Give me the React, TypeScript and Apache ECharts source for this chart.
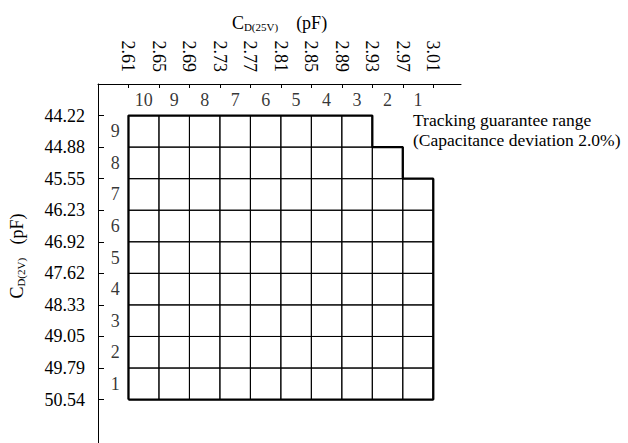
import React, { useEffect, useRef } from "react";
import * as echarts from "echarts";

// Tick labels
const xTickLabels = ["2.61", "2.65", "2.69", "2.73", "2.77", "2.81", "2.85", "2.89", "2.93", "2.97", "3.01"];
const yTickLabels = ["44.22", "44.88", "45.55", "46.23", "46.92", "47.62", "48.33", "49.05", "49.79", "50.54"];
// Cell rank labels
const colLabels = ["10", "9", "8", "7", "6", "5", "4", "3", "2", "1"];
const rowLabels = ["9", "8", "7", "6", "5", "4", "3", "2", "1"];
// First (top-most) row index inside the guarantee range, per column
const colTopRow = [0, 0, 0, 0, 0, 0, 0, 0, 1, 2];
const annotation = ["Tracking guarantee range", "(Capacitance deviation 2.0%)"];

const FONT = "'Liberation Serif', 'Times New Roman', serif";

export default function App() {
  const ref = useRef<HTMLDivElement>(null);

  useEffect(() => {
    if (!ref.current) return;
    const chart = echarts.init(ref.current, undefined, { renderer: "svg" });
    const nRows = rowLabels.length;
    const nCols = colLabels.length;

    const cells: number[][] = [];
    colTopRow.forEach((top, c) => {
      for (let r = top; r < nRows; r++) cells.push([c, r]);
    });

    // Outline of the range (staircase)
    const outline: number[][] = [[0, nRows], [0, colTopRow[0]]];
    for (let c = 0; c < nCols; c++) {
      outline.push([c, colTopRow[c]]);
      outline.push([c + 1, colTopRow[c]]);
    }
    outline.push([nCols, nRows]);
    outline.push([0, nRows]);

    const colLabelData = colLabels.map((l, i) => [i + 0.5, -0.5, l]);
    const rowLabelData = rowLabels.map((l, j) => [-0.5, j + 0.5, l]);

    const labelStyle = { fontFamily: FONT, fontSize: 18, color: "#000" };

    chart.setOption({
      animation: false,
      backgroundColor: "#fff",
      grid: { left: 95, top: 84, width: 366, height: 359, containLabel: false },
      xAxis: {
        type: "value",
        position: "top",
        min: -1,
        max: 10.91,
        axisLine: { show: true, onZero: false, lineStyle: { color: "#000", width: 1 } },
        axisTick: { show: true, inside: true, length: 4, lineStyle: { color: "#000" }, customValues: xTickLabels.map((_, i) => i) },
        axisLabel: {
          ...labelStyle,
          rotate: 90,
          margin: 12,
          customValues: xTickLabels.map((_, i) => i),
          formatter: (v: number) => xTickLabels[Math.round(v)] ?? "",
        },
        splitLine: { show: false },
        name: "{c|C}{s|D(25V)}{p|    (pF)}",
        nameLocation: "middle",
        nameGap: 52,
        nameTextStyle: {
          rich: {
            c: { fontFamily: FONT, fontSize: 18, lineHeight: 22, verticalAlign: "bottom", color: "#000" },
            s: { fontFamily: FONT, fontSize: 11, lineHeight: 12, verticalAlign: "bottom", color: "#000" },
            p: { fontFamily: FONT, fontSize: 18, lineHeight: 22, verticalAlign: "bottom", color: "#000" },
          },
        },
      },
      yAxis: {
        type: "value",
        inverse: true,
        min: -1,
        max: 10.375,
        axisLine: { show: true, onZero: false, lineStyle: { color: "#000", width: 1 } },
        axisTick: { show: true, inside: true, length: 6, lineStyle: { color: "#000" }, customValues: yTickLabels.map((_, i) => i) },
        axisLabel: {
          ...labelStyle,
          margin: 13,
          customValues: yTickLabels.map((_, i) => i),
          formatter: (v: number) => yTickLabels[Math.round(v)] ?? "",
        },
        splitLine: { show: false },
        name: "{c|C}{s|D(2V)}{p|   (pF)}",
        nameLocation: "middle",
        nameGap: 72,
        nameTextStyle: {
          padding: [0, 0, 0, 15],
          rich: {
            c: { fontFamily: FONT, fontSize: 18, lineHeight: 22, verticalAlign: "bottom", color: "#000" },
            s: { fontFamily: FONT, fontSize: 11, lineHeight: 12, verticalAlign: "bottom", color: "#000" },
            p: { fontFamily: FONT, fontSize: 18, lineHeight: 22, verticalAlign: "bottom", color: "#000" },
          },
        },
      },
      series: [
        {
          type: "custom",
          data: cells,
          silent: true,
          renderItem: (_params: any, api: any) => {
            const c = api.value(0);
            const r = api.value(1);
            const p0 = api.coord([c, r]);
            const p1 = api.coord([c + 1, r + 1]);
            return {
              type: "rect",
              shape: {
                x: Math.min(p0[0], p1[0]),
                y: Math.min(p0[1], p1[1]),
                width: Math.abs(p1[0] - p0[0]),
                height: Math.abs(p1[1] - p0[1]),
              },
              style: { fill: "none", stroke: "#000", lineWidth: 1 },
            };
          },
        },
        {
          type: "line",
          data: outline,
          symbol: "none",
          silent: true,
          lineStyle: { color: "#000", width: 2.3 },
          z: 5,
        },
        {
          type: "scatter",
          data: colLabelData,
          symbolSize: 0,
          silent: true,
          label: {
            show: true,
            position: "inside",
            ...labelStyle,
            formatter: (p: any) => p.data[2],
          },
        },
        {
          type: "scatter",
          data: rowLabelData,
          symbolSize: 0,
          silent: true,
          label: {
            show: true,
            position: "inside",
            offset: [2, 0],
            ...labelStyle,
            formatter: (p: any) => p.data[2],
          },
        },
      ],
      graphic: [
        {
          type: "text",
          left: 413,
          top: 110.5,
          style: {
            text: annotation.join("\n"),
            font: `17.5px ${FONT}`,
            lineHeight: 19.5,
            fill: "#000",
          },
        },
      ],
    });
    return () => chart.dispose();
  }, []);

  return <div ref={ref} style={{ position: "fixed", left: 0, top: 0, width: 628, height: 443 }} />;
}
